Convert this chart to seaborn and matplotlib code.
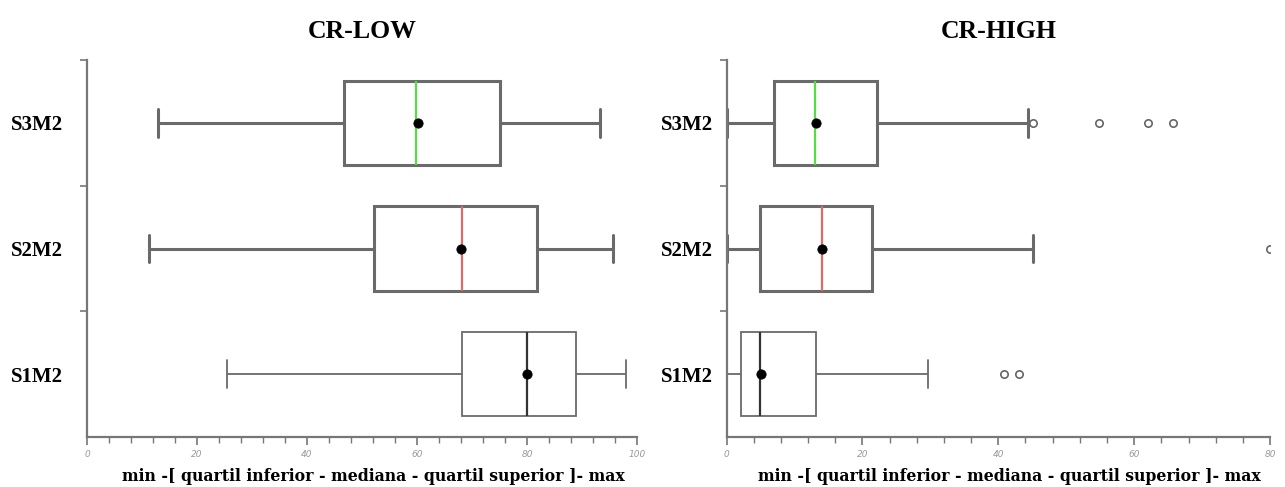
import matplotlib
matplotlib.use("Agg")
import matplotlib.pyplot as plt
from matplotlib.ticker import MultipleLocator, FixedLocator
import numpy as np
import pandas as pd
import seaborn as sns

groups = ["S3M2", "S2M2", "S1M2"]

# CR-LOW: min, lower quartile, median, upper quartile, max (whiskers = min/max)
low_min = [13.0, 11.2, 25.4]
low_q1 = [46.7, 52.1, 68.1]
low_med = [59.9, 68.1, 80.0]
low_q3 = [75.1, 81.9, 88.9]
low_max = [93.3, 95.6, 98.0]
low_mean = [60.2, 68.0, 80.0]

# CR-HIGH
high_min = [0.0, 0.0, 0.0]
high_q1 = [7.0, 4.9, 2.1]
high_med = [13.0, 14.1, 4.9]
high_q3 = [22.1, 21.4, 13.2]
high_max = [44.4, 45.1, 29.6]
high_mean = [13.1, 14.1, 5.0]
high_out_group = ["S3M2", "S3M2", "S3M2", "S3M2", "S2M2", "S1M2", "S1M2"]
high_out_value = [45.1, 54.8, 62.0, 65.7, 80.0, 40.8, 43.0]

median_colors = ["#55dd44", "#e06a6a", "#333333"]
line_widths = [2.2, 2.2, 1.3]
box_color = "#6a6a6a"
serif = ["Liberation Serif", "DejaVu Serif"]
label_font = ["DejaVu Serif"]


def summary_frame(mins, q1s, meds, q3s, maxs):
    rows = []
    for g, a, b, c, d, e in zip(groups, mins, q1s, meds, q3s, maxs):
        for v in (a, b, c, d, e):
            rows.append({"group": g, "value": v})
    return pd.DataFrame(rows)


def draw_panel(ax, df, means, title, xmax, label_pad, out_df=None):
    sns.boxplot(data=df, x="value", y="group", order=groups, ax=ax,
                whis=(0, 100), showfliers=False, width=0.67, color="white",
                linecolor=box_color, linewidth=2, capwidths=0.22)

    # per-group styling (median colour, line weight)
    for cont in ax.containers:
        for attr in ("boxes", "medians", "whiskers", "caps"):
            for art in getattr(cont, attr, []) or []:
                if hasattr(art, "get_ydata"):
                    yd = np.asarray(art.get_ydata(), dtype=float)
                else:
                    yd = art.get_path().vertices[:, 1]
                i = int(round(float(np.mean(yd))))
                i = min(max(i, 0), 2)
                art.set_linewidth(line_widths[i])
                if attr == "medians":
                    art.set_color(median_colors[i])
                    art.set_linewidth(1.6)

    mean_df = pd.DataFrame({"group": groups, "value": means})
    sns.scatterplot(data=mean_df, x="value", y="group", ax=ax, color="black",
                    s=45, marker="o", edgecolor="black", zorder=5, legend=False)
    if out_df is not None:
        sns.scatterplot(data=out_df, x="value", y="group", ax=ax, s=28,
                        marker="o", facecolor="white", edgecolor="#666666",
                        linewidth=1.2, zorder=5, legend=False)

    ax.set_xlim(0, xmax)
    ax.set_ylim(2.5, -0.5)
    ax.set_title(title, fontsize=18.5, fontweight="bold", family=serif,
                 color="black", pad=16)
    ax.set_xlabel("min -[ quartil inferior - mediana - quartil superior ]- max",
                  fontsize=11.3, fontweight="bold", family=label_font,
                  color="black", labelpad=6)
    ax.xaxis.label.set_x(0.52)
    ax.set_ylabel("")
    ax.xaxis.set_major_locator(MultipleLocator(20))
    ax.xaxis.set_minor_locator(MultipleLocator(4))
    ax.set_xticklabels([f"{int(t)}" for t in ax.get_xticks()])
    ax.tick_params(axis="x", which="both", bottom=True, direction="out")
    ax.tick_params(axis="x", which="major", length=6, width=1.2, colors="#777777",
                   labelsize=6.5, labelcolor="#999999")
    ax.tick_params(axis="x", which="minor", length=4, width=1.0, colors="#777777")
    for lab in ax.get_xticklabels():
        lab.set_fontstyle("italic")
    ax.set_yticks(range(len(groups)))
    ax.set_yticklabels(groups, fontsize=15, fontweight="bold", family=serif,
                       color="black")
    ax.tick_params(axis="y", which="both", left=True, direction="out")
    ax.tick_params(axis="y", which="major", length=0, pad=label_pad)
    ax.yaxis.set_minor_locator(FixedLocator([-0.5, 0.5, 1.5]))
    ax.tick_params(axis="y", which="minor", length=5, width=1.2, colors="#777777")
    for side in ("top", "right"):
        ax.spines[side].set_visible(False)
    for side in ("left", "bottom"):
        ax.spines[side].set_color("#777777")
        ax.spines[side].set_linewidth(1.6)


sns.set_theme(style="white")
fig = plt.figure(figsize=(12.85, 4.87), dpi=100)
ax_low = fig.add_axes([0.0677, 0.1027, 0.428, 0.774])
ax_high = fig.add_axes([0.5654, 0.1027, 0.423, 0.774])

low_df = summary_frame(low_min, low_q1, low_med, low_q3, low_max)
high_df = summary_frame(high_min, high_q1, high_med, high_q3, high_max)
out_df = pd.DataFrame({"group": high_out_group, "value": high_out_value})

draw_panel(ax_low, low_df, low_mean, "CR-LOW", 100, 17)
draw_panel(ax_high, high_df, high_mean, "CR-HIGH", 80, 10, out_df)

fig.savefig("out.png", dpi=100, facecolor="white")
